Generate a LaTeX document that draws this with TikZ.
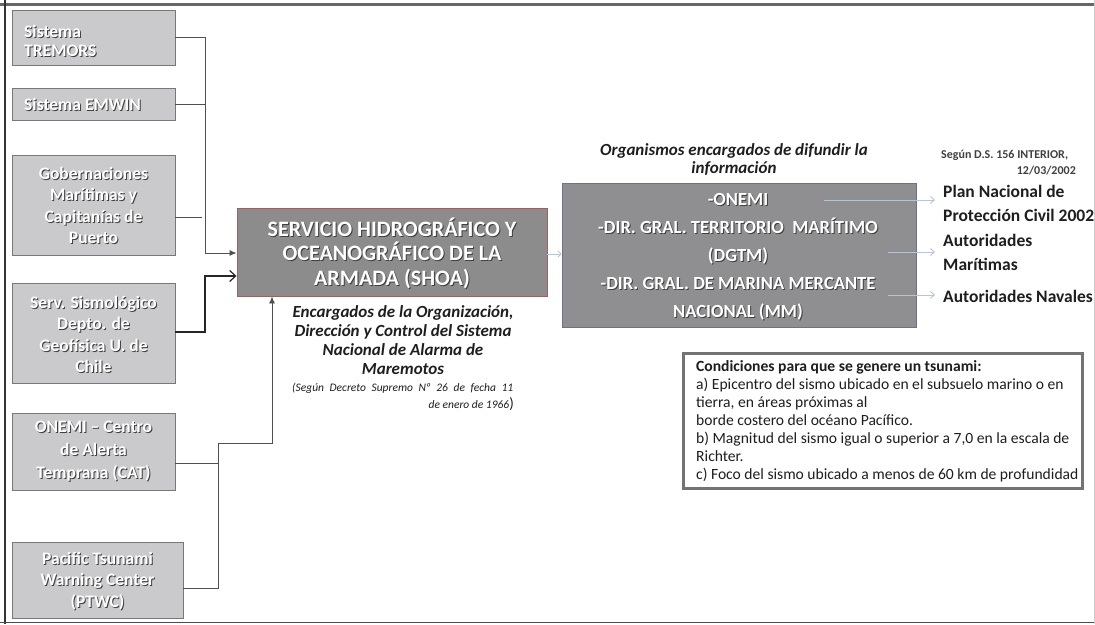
\documentclass[tikz,border=0pt]{standalone}
\usepackage{fontspec}
\setmainfont{Carlito}
\usetikzlibrary{arrows.meta}
\definecolor{lboxfill}{RGB}{202,202,204}
\definecolor{lboxline}{RGB}{120,120,124}
\definecolor{shoafill}{RGB}{140,140,140}
\definecolor{shoaline}{RGB}{150,100,100}
\definecolor{orgfill}{RGB}{143,143,145}
\definecolor{orgline}{RGB}{110,110,150}
\definecolor{connc}{RGB}{80,80,80}
\definecolor{lightarr}{RGB}{185,197,212}
\definecolor{txtdark}{RGB}{30,30,30}
\newcommand\emb[4]{%
  \node[#2, text=black!75, xshift=1pt, yshift=-1pt] (#1-s) at (#3) {#4};
  \node[#2, text=white] (#1) at (#3) {#4};}
\begin{document}
\begin{tikzpicture}[x=1pt,y=-1pt,
  lbox/.style={draw=lboxline, fill=lboxfill, line width=0.9pt, inner sep=0pt},
  ltxt/.style={font=\fontsize{17.5}{21.5}\selectfont\bfseries, align=center, inner sep=0pt},
  conn/.style={draw=connc, line width=0.9pt},
  lconn/.style={draw=lightarr, line width=0.9pt, -{Straight Barb[length=4pt,width=7pt]}},
  rlab/.style={font=\fontsize{17.5}{24}\selectfont\bfseries, text=txtdark, align=left, anchor=west, inner sep=0pt}]
\useasboundingbox (0,0) rectangle (1095,624);
% frame
\draw[line width=3pt, black!60] (0,4.5) -- (1095,4.5);
\draw[line width=2.5pt, black!80] (5,0) -- (5,624);
\draw[line width=1.5pt, black!70] (0,622.5) -- (1095,622.5);
\draw[line width=0.8pt, black!20] (1094,0) -- (1094,624);

% left boxes
\node[lbox, minimum width=163, minimum height=55] (tre) at (93.5,37.5) {};
\emb{treT}{ltxt, anchor=west, align=left, font=\fontsize{17.5}{18.5}\selectfont\bfseries}{24,41}{Sistema\\TREMORS}
\node[lbox, minimum width=163, minimum height=32] (emw) at (93.5,104) {};
\emb{emwT}{ltxt, anchor=west, align=left}{24,104}{Sistema EMWIN}
\node[lbox, minimum width=163, minimum height=100] (gob) at (93.5,205) {};
\emb{gobT}{ltxt}{93.5,205.5}{Gobernaciones\\Marítimas y\\Capitanías de\\Puerto}
\node[lbox, minimum width=163, minimum height=100] (ser) at (93.5,333) {};
\emb{serT}{ltxt}{93.5,334.5}{Serv. Sismológico\\Depto. de\\Geofísica U. de\\Chile}
\node[lbox, minimum width=163, minimum height=77] (cat) at (93.5,451.5) {};
\emb{catT}{ltxt, font=\fontsize{17.5}{23}\selectfont\bfseries}{93.5,451.5}{ONEMI – Centro\\de Alerta\\Temprana (CAT)}
\node[lbox, minimum width=171, minimum height=76] (ptw) at (97.5,580) {};
\emb{ptwT}{ltxt}{97.5,581}{Pacific Tsunami\\Warning Center\\(PTWC)}

% SHOA
\node[draw=shoaline, fill=shoafill, line width=0.9pt, minimum width=310, minimum height=88, inner sep=0pt] (shoa) at (392,252) {};
\emb{shoaT}{font=\fontsize{22}{24.5}\selectfont\bfseries, align=center, inner sep=0pt}{392,253}{SERVICIO HIDROGRÁFICO Y\\OCEANOGRÁFICO DE LA\\ARMADA (SHOA)}
\node[font=\fontsize{17}{19}\selectfont\bfseries\itshape, text=txtdark, align=center, inner sep=0pt] (enc) at (403,340) {Encargados de la Organización,\\Dirección y Control del Sistema\\Nacional de Alarma de\\Maremotos};
\node[font=\fontsize{11.5}{12}\selectfont\itshape, text=txtdark, anchor=base west, inner sep=0pt] (seg1) at (292,391) {\makebox[221pt][s]{(Según Decreto Supremo Nº 26 de fecha 11}};
\node[font=\fontsize{11.5}{12}\selectfont\itshape, text=txtdark, anchor=base east, inner sep=0pt] (seg2) at (514,408) {de enero de 1966{\upshape\fontsize{15}{15}\selectfont)}};

% connectors from left boxes
\coordinate (jA) at (205,253);
\coordinate (jB) at (205,276);
\coordinate (jC) at (218,443);
\coordinate (jD) at (272,443);
\draw[conn, -{Latex[length=7pt,width=6pt]}] (tre.east) -| (jA) -- (shoa.west |- jA);
\draw[conn] (emw.east) -- (emw.east -| jA);
\draw[conn] (gob.east |- 0,217) -- (202,217);
\draw[draw=black!85, line width=1.8pt, -{Straight Barb[length=6pt,width=11pt,line width=1.2pt]}] (ser.east |- 0,332) -| (jB) -- (shoa.west |- jB);
\draw[conn] (cat.east |- 0,463) -- (jC |- 0,463);
\draw[conn, -{Latex[length=7pt,width=6pt]}] (ptw.east |- 0,588) -| (jC) -- (jD) -- (jD |- shoa.south);

% organismos
\node[font=\fontsize{17}{18}\selectfont\bfseries\itshape, text=txtdark, align=center, inner sep=0pt] (orgT) at (734,160) {Organismos encargados de difundir la\\información};
\node[draw=orgline, fill=orgfill, line width=0.9pt, minimum width=354, minimum height=144, inner sep=0pt] (org) at (739,255) {};
\draw[draw=lightarr, line width=0.8pt, -{Straight Barb[length=3pt,width=6pt]}] (shoa.east |- 0,254) -- (org.west |- 0,254);
\emb{orgTx}{font=\fontsize{18.5}{28}\selectfont\bfseries, align=center, inner sep=0pt}{738,257}{-ONEMI\\-DIR. GRAL. TERRITORIO\ \ MARÍTIMO\\(DGTM)\\-DIR. GRAL. DE MARINA MERCANTE\\NACIONAL (MM)}

% right labels
\node[font=\fontsize{12}{14}\selectfont\bfseries, text=txtdark!85, anchor=west, inner sep=0pt] (ds1) at (941,155) {Según D.S. 156 INTERIOR,};
\node[font=\fontsize{12}{14}\selectfont\bfseries, text=txtdark!85, anchor=east, inner sep=0pt] (ds2) at (1076,171) {12/03/2002};
\node[rlab] (plan) at (943,203) {Plan Nacional de\\Protección Civil 2002};
\node[rlab] (aut1) at (943,252) {Autoridades\\Marítimas};
\node[rlab] (aut2) at (943,296) {Autoridades Navales};
\draw[lconn] (824,200) -- (935,200);
\draw[lconn] (888,252) -- (935,252);
\draw[lconn] (888,295) -- (935,295);

% conditions
\node[draw=black!55, line width=3pt, fill=white, minimum width=399, minimum height=135, inner sep=0pt] (cond) at (882.5,420.5) {};
\node[font=\fontsize{15.6}{18}\selectfont, text=txtdark, align=left, anchor=west, inner sep=0pt] (condT) at (696,421) {\textbf{Condiciones para que se genere un tsunami:}\\
a) Epicentro del sismo ubicado en el subsuelo marino o en\\
tierra, en áreas próximas al\\
borde costero del océano Pacífico.\\
b) Magnitud del sismo igual o superior a 7,0 en la escala de\\
Richter.\\
c) Foco del sismo ubicado a menos de 60 km de profundidad};
\end{tikzpicture}
\end{document}
